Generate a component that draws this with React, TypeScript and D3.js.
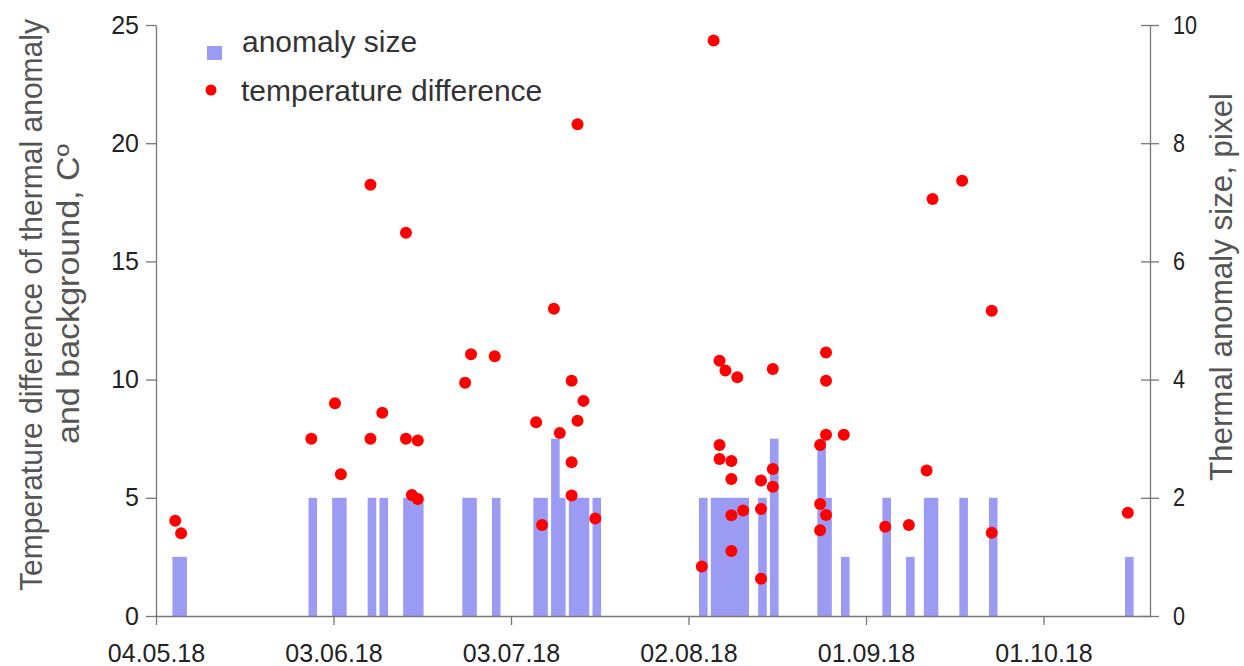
import React, { useEffect, useRef } from "react";
import * as d3 from "d3";

// anomaly size (right axis, pixel)
const barDates = [
  "2018-05-07", "2018-05-08", "2018-05-30", "2018-06-03", "2018-06-04", "2018-06-09",
  "2018-06-11", "2018-06-15", "2018-06-16", "2018-06-17", "2018-06-25", "2018-06-26",
  "2018-06-30", "2018-07-07", "2018-07-08", "2018-07-11", "2018-07-10", "2018-07-13",
  "2018-07-14", "2018-07-15", "2018-07-17", "2018-08-04", "2018-08-06", "2018-08-07",
  "2018-08-08", "2018-08-09", "2018-08-10", "2018-08-11", "2018-08-14", "2018-08-16",
  "2018-08-25", "2018-08-24", "2018-08-28", "2018-09-04", "2018-09-08", "2018-09-11",
  "2018-09-12", "2018-09-17", "2018-09-22", "2018-10-15",
];
const barSizes = [
  1, 1, 2, 2, 2, 2,
  2, 2, 2, 2, 2, 2,
  2, 2, 2, 2, 3, 2,
  2, 2, 2, 2, 2, 2,
  2, 2, 2, 2, 2, 3,
  2, 3, 1, 2, 1, 2,
  2, 2, 2, 1,
];

// temperature difference (left axis, C)
const dotDates = [
  "2018-05-07", "2018-05-08", "2018-05-30", "2018-06-03", "2018-06-04", "2018-06-09",
  "2018-06-09", "2018-06-11", "2018-06-15", "2018-06-15", "2018-06-16", "2018-06-17",
  "2018-06-17", "2018-06-25", "2018-06-26", "2018-06-30", "2018-07-07", "2018-07-08",
  "2018-07-10", "2018-07-11", "2018-07-13", "2018-07-13", "2018-07-13", "2018-07-14",
  "2018-07-14", "2018-07-15", "2018-07-17", "2018-08-04", "2018-08-06", "2018-08-07",
  "2018-08-07", "2018-08-07", "2018-08-08", "2018-08-09", "2018-08-09", "2018-08-09",
  "2018-08-09", "2018-08-10", "2018-08-11", "2018-08-14", "2018-08-14", "2018-08-14",
  "2018-08-16", "2018-08-16", "2018-08-16", "2018-08-24", "2018-08-24", "2018-08-24",
  "2018-08-25", "2018-08-25", "2018-08-25", "2018-08-25", "2018-08-28", "2018-09-04",
  "2018-09-08", "2018-09-11", "2018-09-12", "2018-09-17", "2018-09-22", "2018-09-22",
  "2018-10-15",
];
const dotTemps = [
  4.03, 3.5, 7.5, 9.0, 6.0, 7.5,
  18.24, 8.6, 7.5, 16.21, 5.12, 7.42,
  4.95, 9.87, 11.07, 10.99, 8.2, 3.85,
  13.0, 7.74, 9.95, 6.5, 5.1, 8.26,
  20.8, 9.1, 4.12, 2.09, 24.34, 10.8,
  7.23, 6.64, 10.38, 6.56, 5.8, 4.26,
  2.75, 10.1, 4.46, 5.73, 4.53, 1.58,
  10.45, 6.22, 5.47, 7.23, 4.74, 3.63,
  11.15, 9.95, 7.67, 4.27, 7.67, 3.78,
  3.85, 6.15, 17.64, 18.41, 12.91, 3.52,
  4.37,
];

const xTickDates = ["2018-05-04", "2018-06-03", "2018-07-03", "2018-08-02", "2018-09-01", "2018-10-01"];
const xDomain = ["2018-05-04", "2018-10-19"];
const leftTicks = [0, 5, 10, 15, 20, 25];
const rightTicks = [0, 2, 4, 6, 8, 10];

const FONT = "'Liberation Sans', Arial, sans-serif";

const App = () => {
  const ref = useRef<SVGSVGElement | null>(null);

  useEffect(() => {
    if (!ref.current) return;
    const svg = d3.select(ref.current);
    svg.selectAll("*").remove();

    const parse = d3.timeParse("%Y-%m-%d");
    const x = d3.scaleTime()
      .domain(xDomain.map(d => parse(d) as Date))
      .range([156, 1150]);
    const yL = d3.scaleLinear().domain([0, 25]).range([616, 25]);
    const yR = d3.scaleLinear().domain([0, 10]).range([616, 25]);

    const dayW = x(parse("2018-05-05") as Date) - x(parse("2018-05-04") as Date);
    const barW = dayW * 1.45;
    const mid = (s: string) => x(d3.timeHour.offset(parse(s) as Date, 12));

    const bars = barDates.map((d, i) => ({ d, v: barSizes[i] }));
    svg.append("g")
      .selectAll("rect")
      .data(bars)
      .enter()
      .append("rect")
      .attr("x", b => mid(b.d) - barW / 2)
      .attr("width", barW)
      .attr("y", b => yR(b.v))
      .attr("height", b => yR(0) - yR(b.v))
      .attr("fill", "#9b9bf4");

    // axes
    const axisColor = "#777";
    const gx = svg.append("g")
      .attr("transform", `translate(0,616)`)
      .call(d3.axisBottom(x)
        .tickValues(xTickDates.map(d => parse(d) as Date))
        .tickFormat(d => d3.timeFormat("%d.%m.%y")(d as Date))
        .tickSize(9)
        .tickSizeOuter(0));
    gx.selectAll("text").attr("y", 46).attr("dy", null);

    const gl = svg.append("g")
      .attr("transform", `translate(156,0)`)
      .call(d3.axisLeft(yL).tickValues(leftTicks).tickSize(10).tickPadding(7).tickSizeOuter(0));

    const gr = svg.append("g")
      .attr("transform", `translate(1150,0)`)
      .call(d3.axisRight(yR).tickValues(rightTicks).tickSize(9).tickPadding(14).tickSizeOuter(0));
    gr.selectAll(".tick line").attr("x1", -9);

    [gx, gl, gr].forEach(g => {
      g.selectAll("path, line").attr("stroke", axisColor).attr("stroke-width", 1.3);
      g.selectAll("text")
        .attr("font-family", FONT)
        .attr("font-size", 25)
        .attr("fill", "#222");
    });
    // right-hand labels are a little narrower in the original
    gr.selectAll<SVGTextElement, number>("text")
      .attr("textLength", d => String(d).length * 12)
      .attr("lengthAdjust", "spacingAndGlyphs");

    // dots
    const dots = dotDates.map((d, i) => ({ d, v: dotTemps[i] }));
    svg.append("g")
      .selectAll("circle")
      .data(dots)
      .enter()
      .append("circle")
      .attr("cx", p => mid(p.d) - 1.5)
      .attr("cy", p => yL(p.v))
      .attr("r", 6)
      .attr("fill", "#ff0000");

    // axis titles (tall, condensed lettering)
    const titleColor = "#555";
    const title = (tx: number, ty: number, len: number, s: string) =>
      svg.append("text")
        .attr("transform", `translate(${tx},${ty}) rotate(-90)`)
        .attr("text-anchor", "middle")
        .attr("font-family", FONT)
        .attr("font-size", 31)
        .attr("fill", titleColor)
        .attr("textLength", len)
        .attr("lengthAdjust", "spacingAndGlyphs")
        .text(s);
    title(42, 305, 572, "Temperature difference of thermal anomaly");
    title(79, 294, 300, "and background, Cº");
    title(1232, 287, 388, "Thermal anomaly size, pixel");

    // legend
    const lg = svg.append("g");
    lg.append("rect").attr("x", 207).attr("y", 46).attr("width", 15).attr("height", 14).attr("fill", "#9b9bf4");
    lg.append("text").attr("x", 242).attr("y", 52)
      .attr("font-family", FONT).attr("font-size", 30).attr("fill", "#333")
      .text("anomaly size");
    lg.append("circle").attr("cx", 211).attr("cy", 90).attr("r", 5.5).attr("fill", "#ff0000");
    lg.append("text").attr("x", 241).attr("y", 101)
      .attr("font-family", FONT).attr("font-size", 30).attr("fill", "#333")
      .text("temperature difference");
  }, []);

  return (
    <svg
      ref={ref}
      width={1244}
      height={666}
      style={{ position: "absolute", left: 0, top: 0, background: "#fff" }}
    />
  );
};

export default App;
